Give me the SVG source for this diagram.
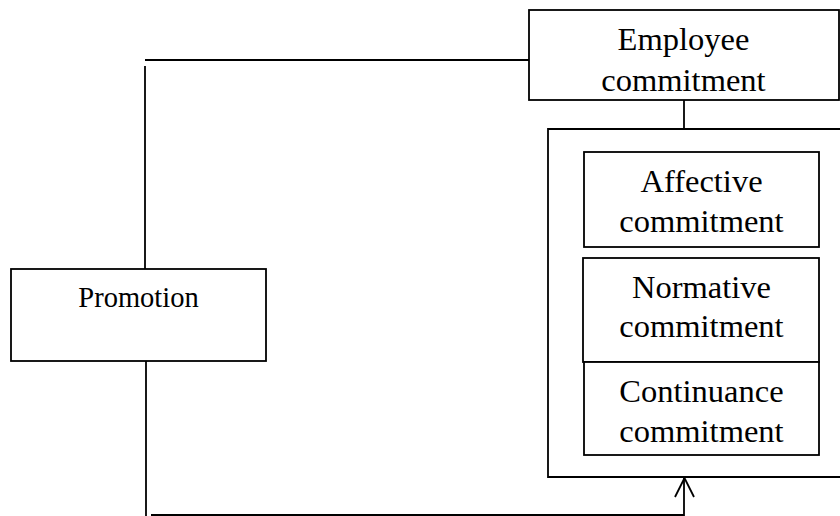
<svg xmlns="http://www.w3.org/2000/svg" width="840" height="516" viewBox="0 0 840 516">
<style>
.box{fill:#fff;stroke:#000;stroke-width:1.8}
.ln{fill:none;stroke:#000;stroke-width:1.8}
text{font-family:"Liberation Serif","Times New Roman",serif;fill:#000;text-anchor:middle}
.big{font-size:32.5px}
.mid{font-size:28.5px}
</style>
<g id="connectors">
<path class="ln" d="M529,60 H145"/>
<path class="ln" d="M145,66 V269"/>
<path class="ln" d="M146,361 V516"/>
<path class="ln" d="M151,515 H684 V478"/>
<path class="ln" d="M675,497 L684.5,478 L694,497"/>
<path class="ln" d="M684,100 V129"/>
</g>
<g id="outer">
<path class="ln" d="M842,129 H548 V477 H842"/>
</g>
<g id="employee">
<rect class="box" x="529" y="10" width="310" height="90"/>
<text class="big" x="683.5" y="50">Employee</text>
<text class="big" x="683.5" y="91">commitment</text>
</g>
<g id="promotion">
<rect class="box" x="11" y="269" width="255" height="92"/>
<text class="mid" x="138.5" y="307">Promotion</text>
</g>
<g id="affective">
<rect class="box" x="584" y="152" width="235" height="95"/>
<text class="big" x="701.5" y="192">Affective</text>
<text class="big" x="701.5" y="232">commitment</text>
</g>
<g id="normative">
<rect class="box" x="583" y="258" width="236" height="104"/>
<text class="big" x="701.5" y="298">Normative</text>
<text class="big" x="701.5" y="337">commitment</text>
</g>
<g id="continuance">
<rect class="box" x="584" y="362" width="235" height="93"/>
<text class="big" x="701.5" y="402">Continuance</text>
<text class="big" x="701.5" y="442">commitment</text>
</g>
</svg>
